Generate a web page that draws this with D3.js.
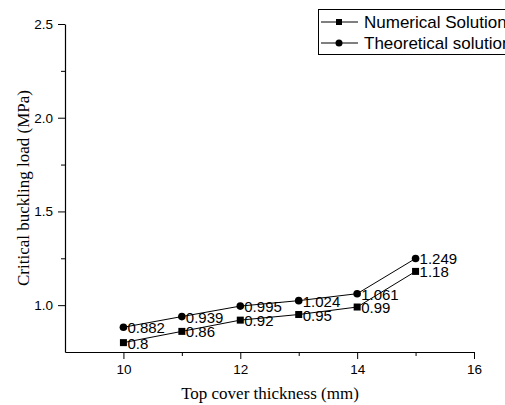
<!DOCTYPE html>
<html>
<head>
<meta charset="utf-8">
<script src="https://cdn.jsdelivr.net/npm/d3@7"></script>
<style>
body { margin: 0; background: #fff; }
svg { display: block; }
</style>
</head>
<body>
<svg class="svgWrapper" width="505" height="405"></svg>
<script>

const thickness = [10, 11, 12, 13, 14, 15];
const numerical = [0.8, 0.86, 0.92, 0.95, 0.99, 1.18];
const theoretical = [0.882, 0.939, 0.995, 1.024, 1.061, 1.249];
const seriesNames = ['Numerical Solution', 'Theoretical solution'];
const xTicks = [10, 12, 14, 16];
const xMinor = [11, 13, 15];
const yTicks = [1.0, 1.5, 2.0, 2.5];
const yMinor = [1.25, 1.75, 2.25];

const svgObj = d3.select('.svgWrapper');

const xScale = d3.scaleLinear().domain([9, 16]).range([65, 474]);
const yScale = d3.scaleLinear().domain([0.75, 2.5]).range([352, 24]);

//axes
const xAxisG = svgObj.append('g').attr('transform', 'translate(0,352)')
	.call(d3.axisBottom(xScale).tickValues(xTicks).tickFormat(d3.format('d'))
		.tickSize(7).tickPadding(5).tickSizeOuter(0));
svgObj.append('g').attr('transform', 'translate(0,352)')
	.call(d3.axisBottom(xScale).tickValues(xMinor).tickFormat('').tickSize(4).tickSizeOuter(0))
	.select('.domain').remove();

const yAxisG = svgObj.append('g').attr('transform', 'translate(65,0)')
	.call(d3.axisLeft(yScale).tickValues(yTicks).tickFormat(d3.format('.1f'))
		.tickSize(7).tickPadding(5).tickSizeOuter(0));
svgObj.append('g').attr('transform', 'translate(65,0)')
	.call(d3.axisLeft(yScale).tickValues(yMinor).tickFormat('').tickSize(4).tickSizeOuter(0))
	.select('.domain').remove();

svgObj.selectAll('.domain').attr('stroke', '#000').attr('stroke-width', 1.2);
svgObj.selectAll('.tick line').attr('stroke', '#000');
svgObj.selectAll('.tick text')
	.attr('font-family', 'Liberation Sans, Arial, sans-serif')
	.attr('font-size', 13.5)
	.attr('fill', '#000');

//axis titles
svgObj.append('text')
	.attr('x', 270).attr('y', 399)
	.attr('text-anchor', 'middle')
	.attr('font-family', 'Liberation Serif, Times New Roman, serif')
	.attr('font-size', 17)
	.text('Top cover thickness (mm)');

svgObj.append('text')
	.attr('transform', 'translate(29,188) rotate(-90)')
	.attr('text-anchor', 'middle')
	.attr('font-family', 'Liberation Serif, Times New Roman, serif')
	.attr('font-size', 17)
	.text('Critical buckling load (MPa)');

//series
const line = d3.line().x((d, i) => xScale(thickness[i])).y(d => yScale(d));
const allSeries = [numerical, theoretical];

allSeries.forEach((vals, si) => {
	const g = svgObj.append('g');
	g.append('path').datum(vals)
		.attr('d', line)
		.attr('fill', 'none')
		.attr('stroke', '#000')
		.attr('stroke-width', 1);
	if (si === 0) {
		g.selectAll('rect').data(vals).join('rect')
			.attr('x', (d, i) => xScale(thickness[i]) - 3.5)
			.attr('y', d => yScale(d) - 3.5)
			.attr('width', 7).attr('height', 7)
			.attr('fill', '#000');
	} else {
		g.selectAll('circle').data(vals).join('circle')
			.attr('cx', (d, i) => xScale(thickness[i]))
			.attr('cy', d => yScale(d))
			.attr('r', 3.8)
			.attr('fill', '#000');
	}
	g.selectAll('text').data(vals).join('text')
		.attr('x', (d, i) => xScale(thickness[i]) + 4)
		.attr('y', d => yScale(d) + 6)
		.attr('font-family', 'Liberation Sans, Arial, sans-serif')
		.attr('font-size', 15)
		.text(d => String(d));
});

//legend
const legendG = svgObj.append('g');
legendG.append('rect')
	.attr('x', 318.5).attr('y', 9.5)
	.attr('width', 200).attr('height', 45)
	.attr('fill', '#fff')
	.attr('stroke', '#000')
	.attr('stroke-width', 1);

seriesNames.forEach((name, i) => {
	const ly = 22 + i * 21;
	legendG.append('line')
		.attr('x1', 321).attr('x2', 358)
		.attr('y1', ly).attr('y2', ly)
		.attr('stroke', '#000');
	if (i === 0) {
		legendG.append('rect')
			.attr('x', 336).attr('y', ly - 3)
			.attr('width', 6).attr('height', 6)
			.attr('fill', '#000');
	} else {
		legendG.append('circle')
			.attr('cx', 339).attr('cy', ly).attr('r', 3.5)
			.attr('fill', '#000');
	}
	legendG.append('text')
		.attr('x', 364).attr('y', ly + 6)
		.attr('font-family', 'Liberation Sans, Arial, sans-serif')
		.attr('font-size', 17)
		.text(name);
});

</script>
</body>
</html>
